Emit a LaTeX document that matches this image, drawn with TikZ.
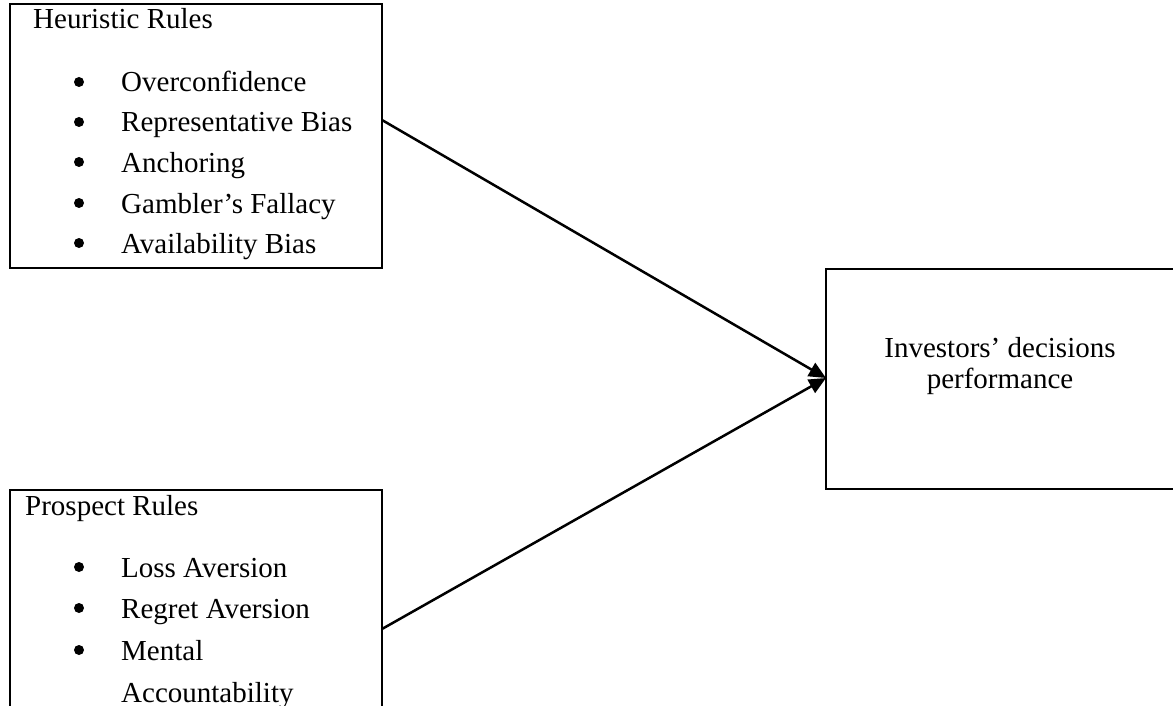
\documentclass[tikz,border=0pt]{standalone}
\usepackage{fontspec}
\setmainfont{Liberation Serif}
\usetikzlibrary{arrows.meta,calc}
\begin{document}
\begin{tikzpicture}[x=1pt,y=-1pt,
  box/.style={draw,line width=2.5pt,inner sep=0pt,outer sep=0pt,anchor=north west},
  txt/.style={anchor=base west,inner sep=0pt,font=\fontsize{29}{35}\selectfont},
  ctxt/.style={anchor=base,inner sep=0pt,font=\fontsize{29}{35}\selectfont},
  bul/.style={circle,fill,inner sep=0pt,minimum size=10pt},
  conn/.style={line width=2.5pt,-{Triangle[length=17pt,width=15pt]}}]
\useasboundingbox (0,0) rectangle (1173,706);
\clip (0,0) rectangle (1173,706);
% boxes
\node[box,minimum width=372pt,minimum height=264pt] (heur) at (10,4) {};
\node[box,minimum width=372pt,minimum height=240pt] (pros) at (10,490) {};
\node[box,minimum width=380pt,minimum height=220pt] (inv) at (826,269) {};
% heuristic texts
\node[txt] (ht) at (33,29) {Heuristic Rules};
\node[bul] (hb1) at (79,82) {};  \node[txt] (h1) at (121,92) {Overconfidence};
\node[bul] (hb2) at (79,122) {}; \node[txt] (h2) at (121,132) {Representative Bias};
\node[bul] (hb3) at (79,162) {}; \node[txt] (h3) at (121,172) {Anchoring};
\node[bul] (hb4) at (79,203) {}; \node[txt] (h4) at (121,213) {Gambler’s Fallacy};
\node[bul] (hb5) at (79,243) {}; \node[txt] (h5) at (121,253) {Availability Bias};
% prospect texts
\node[txt] (pt) at (25,515) {Prospect Rules};
\node[bul] (pb1) at (79,567) {}; \node[txt] (p1) at (121,577) {Loss Aversion};
\node[bul] (pb2) at (79,608) {}; \node[txt] (p2) at (121,618) {Regret Aversion};
\node[bul] (pb3) at (79,650) {}; \node[txt] (p3) at (121,660) {Mental};
\node[txt] (p4) at (121,702) {Accountability};
% target texts
\node[ctxt] (it1) at (1000,357) {Investors’ decisions};
\node[ctxt] (it2) at (1000,388) {performance};
% connectors
\draw[conn] ([yshift=-116pt]heur.north east) -- ([yshift=-109pt]inv.north west);
\draw[conn] ([yshift=-139pt]pros.north east) -- ([yshift=-109pt]inv.north west);
\end{tikzpicture}
\end{document}
